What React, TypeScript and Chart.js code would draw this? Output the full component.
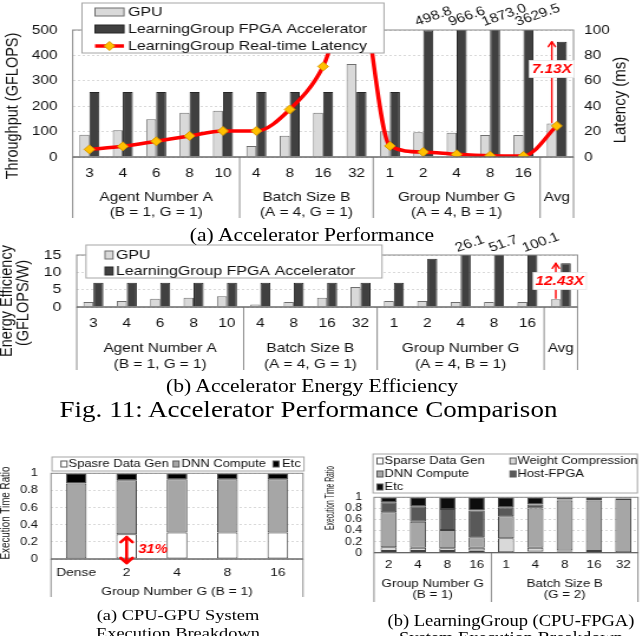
import React, { useEffect, useRef } from 'react';
import { Chart, registerables } from 'chart.js';

Chart.register(...registerables);

// The reference figure is horizontally stretched; we lay out in unscaled units and stretch.
const SX = 1.18;
const SANS = '"Liberation Sans", Arial, Helvetica, sans-serif';
const SERIF = '"Liberation Serif", "Times New Roman", Times, serif';
const INK = '#111111';
const FRAME = '#8a8a8a';
const RED = '#ff0000';

// ---------- (a) Accelerator Performance / (b) Energy Efficiency ----------
const accelTicks = ['3', '4', '6', '8', '10', '4', '8', '16', '32', '1', '2', '4', '8', '16', ''];
const accelGroupTitles = ['Agent Number A', 'Batch Size B', 'Group Number G', 'Avg'];
const accelGroupSubtitles = ['(B = 1, G = 1)', '(A = 4, G = 1)', '(A = 4, B = 1)', ''];
const accelGroupSpans = [5, 4, 5, 1];
const accelLegend = ['GPU', 'LearningGroup FPGA Accelerator', 'LearningGroup Real-time Latency'];

const gpuThroughput = [88, 105, 149, 174, 182, 43, 84, 174, 366, 101, 97, 95, 87, 87, 132];
const fpgaThroughput = [256, 256, 256, 256, 256, 256, 256, 256, 256, 256, 498.8, 966.6, 1873.0, 3629.5, 454];
const latencyMs = [6.0, 8.4, 12.4, 16.6, 20.5, 20.5, 37.4, 71.3, 140, 8.7, 3.9, 2.1, 1.0, 0.8, 24.5];
const throughputMax = 500;
const throughputStep = 100;
const latencyMax = 100;
const latencyStep = 20;
const perfSpeedup = '7.13X';

const gpuEfficiency = [1.45, 1.7, 2.4, 2.7, 3.1, 0.7, 1.45, 2.7, 5.8, 1.7, 1.7, 1.45, 1.45, 1.45, 2.2];
const fpgaEfficiency = [7.0, 7.0, 7.0, 7.0, 7.0, 7.0, 7.0, 7.0, 7.0, 7.0, 13.9, 26.1, 51.7, 100.1, 12.6];
const efficiencyMax = 15;
const efficiencyStep = 5;
const effSpeedup = '12.43X';

// ---------- (c) CPU-GPU breakdown ----------
const cgTicks = ['Dense', '2', '4', '8', '16'];
const cgGroupTitle = 'Group Number G (B = 1)';
const cgLegend = ['Spasre Data Gen', 'DNN Compute', 'Etc'];
const cgSparse = [0, 0.29, 0.31, 0.31, 0.31];
const cgDnn = [0.88, 0.63, 0.62, 0.62, 0.62];
const cgEtc = [0.12, 0.08, 0.07, 0.07, 0.07];
const cgReduction = '31%';

// ---------- (d) LearningGroup breakdown ----------
const lgTicks = ['2', '4', '8', '16', '1', '4', '8', '16', '32'];
const lgGroupTitles = ['Group Number G', 'Batch Size B'];
const lgGroupSubtitles = ['(B = 1)', '(G = 2)'];
const lgGroupSpans = [4, 5];
const lgLegend = ['Sparse Data Gen', 'Weight Compression', 'DNN Compute', 'Host-FPGA', 'Etc'];
const lgSparse = [0.03, 0.03, 0.03, 0.04, 0.01, 0.02, 0.02, 0.01, 0.005];
const lgWeight = [0.07, 0.06, 0.05, 0.05, 0.25, 0.07, 0.02, 0.02, 0.005];
const lgDnn = [0.63, 0.47, 0.33, 0.19, 0.40, 0.71, 0.90, 0.91, 0.96];
const lgHost = [0.18, 0.28, 0.38, 0.48, 0.16, 0.07, 0.02, 0.03, 0.01];
const lgEtc = [0.09, 0.16, 0.21, 0.24, 0.18, 0.13, 0.04, 0.03, 0.02];

const ratioMax = 1;
const ratioStep = 0.2;

Chart.defaults.font.family = SANS;

type Frame = { xT: number; yT: number; wT: number; hT: number; left: number; right: number; top: number; bottom: number };

function geom(f: Frame) {
  const cssLeft = Math.round(f.xT / SX);
  const W = Math.round(f.wT / SX);
  const ux = (xT: number) => xT / SX - cssLeft;
  const uy = (yT: number) => yT - f.yT;
  return { cssLeft, W, H: f.hT, ux, uy, plotL: ux(f.left), plotR: ux(f.right), plotT: uy(f.top), plotB: uy(f.bottom) };
}

type TxtOpt = {
  align?: CanvasTextAlign; baseline?: CanvasTextBaseline; weight?: string; style?: string;
  color?: string; rotate?: number; family?: string; targetLen?: number;
};

function drawText(ctx: CanvasRenderingContext2D, str: string, x: number, y: number, size: number, o: TxtOpt = {}) {
  ctx.save();
  ctx.translate(x, y);
  if (o.rotate) ctx.rotate(o.rotate);
  ctx.font = `${o.style || 'normal'} ${o.weight || 'normal'} ${size}px ${o.family || SANS}`;
  if (o.targetLen) {
    const w = ctx.measureText(str).width;
    ctx.scale(o.targetLen / w, 1);
  }
  ctx.fillStyle = o.color || INK;
  ctx.textAlign = o.align || 'center';
  ctx.textBaseline = o.baseline || 'middle';
  ctx.fillText(str, 0, 0);
  ctx.restore();
}

function drawBoxedText(ctx: CanvasRenderingContext2D, str: string, x: number, y: number, size: number, color: string) {
  ctx.save();
  ctx.font = `italic bold ${size}px ${SANS}`;
  const w = ctx.measureText(str).width;
  ctx.fillStyle = '#ffffff';
  ctx.fillRect(x - w / 2 - 2, y - size / 2 - 2, w + 4, size + 4);
  ctx.strokeStyle = '#e6e6e6';
  ctx.lineWidth = 0.8;
  ctx.strokeRect(x - w / 2 - 2, y - size / 2 - 2, w + 4, size + 4);
  ctx.restore();
  drawText(ctx, str, x, y, size, { weight: 'bold', style: 'italic', color });
}

function drawArrowHead(ctx: CanvasRenderingContext2D, x: number, yTip: number, dir: number, hw: number, hl: number) {
  ctx.beginPath();
  ctx.moveTo(x - hw, yTip - dir * hl);
  ctx.lineTo(x, yTip);
  ctx.lineTo(x + hw, yTip - dir * hl);
  ctx.stroke();
}

function drawVArrow(ctx: CanvasRenderingContext2D, x: number, yFrom: number, yTo: number, color: string, lw: number, hw: number, hl: number, both = false) {
  ctx.save();
  ctx.strokeStyle = color;
  ctx.lineWidth = lw;
  ctx.lineCap = 'round';
  ctx.lineJoin = 'round';
  const dir = yTo < yFrom ? -1 : 1;
  ctx.beginPath();
  ctx.moveTo(x, yFrom);
  ctx.lineTo(x, yTo);
  ctx.stroke();
  drawArrowHead(ctx, x, yTo, dir, hw, hl);
  if (both) drawArrowHead(ctx, x, yFrom, -dir, hw, hl);
  ctx.restore();
}

function drawCategoryAxis(
  ctx: CanvasRenderingContext2D, ca: any, ticks: string[], titles: string[], subs: string[], spans: number[],
  o: { tickY: number; titleY: number; subY: number; lineBottom: number; size: number }
) {
  const n = ticks.length;
  const cw = (ca.right - ca.left) / n;
  ctx.save();
  ctx.lineWidth = 1;
  ctx.strokeStyle = FRAME;
  ctx.strokeRect(ca.left, ca.top, ca.right - ca.left, ca.bottom - ca.top);
  let acc = 0;
  const bounds = [0];
  spans.forEach((s) => { acc += s; bounds.push(acc); });
  ctx.beginPath();
  bounds.forEach((b) => {
    const x = ca.left + b * cw;
    ctx.moveTo(x, ca.bottom);
    ctx.lineTo(x, o.lineBottom);
  });
  ctx.stroke();
  ctx.strokeStyle = '#595959';
  ctx.beginPath();
  ctx.moveTo(ca.left, ca.bottom);
  ctx.lineTo(ca.right, ca.bottom);
  ctx.stroke();
  ctx.restore();
  ticks.forEach((t, i) => { if (t) drawText(ctx, t, ca.left + (i + 0.5) * cw, o.tickY, o.size); });
  titles.forEach((t, k) => {
    const cx = ca.left + ((bounds[k] + bounds[k + 1]) / 2) * cw;
    drawText(ctx, t, cx, o.titleY, o.size);
    if (subs[k]) drawText(ctx, subs[k], cx, o.subY, o.size);
  });
}

function legendBox(ctx: CanvasRenderingContext2D, x0: number, y0: number, x1: number, y1: number) {
  ctx.save();
  ctx.fillStyle = '#ffffff';
  ctx.fillRect(x0, y0, x1 - x0, y1 - y0);
  ctx.strokeStyle = '#a6a6a6';
  ctx.lineWidth = 1;
  ctx.strokeRect(x0, y0, x1 - x0, y1 - y0);
  ctx.restore();
}

function swatch(ctx: CanvasRenderingContext2D, x: number, y: number, w: number, h: number, fill: string, stroke: string) {
  ctx.save();
  ctx.fillStyle = fill;
  ctx.fillRect(x, y - h / 2, w, h);
  ctx.strokeStyle = stroke;
  ctx.lineWidth = 1;
  ctx.strokeRect(x, y - h / 2, w, h);
  ctx.restore();
}

function diamond(ctx: CanvasRenderingContext2D, x: number, y: number, r: number) {
  ctx.save();
  ctx.beginPath();
  ctx.moveTo(x, y - r);
  ctx.lineTo(x + r, y);
  ctx.lineTo(x, y + r);
  ctx.lineTo(x - r, y);
  ctx.closePath();
  ctx.fillStyle = '#ffc000';
  ctx.fill();
  ctx.strokeStyle = '#d99a00';
  ctx.lineWidth = 1;
  ctx.stroke();
  ctx.restore();
}

const GPU_FILL = '#d9d9d9';
const GPU_EDGE = '#6f6f6f';
const FPGA_FILL = '#404040';
const FPGA_EDGE = '#262626';

const fmtTick = (v: any) => String(Math.round(Number(v) * 10) / 10);

function yScaleOpts(max: number, step: number, padding: number, size: number, width: number, gridOn = true) {
  return {
    min: 0,
    max,
    ticks: { stepSize: step, padding, autoSkip: false, font: { family: SANS, size }, color: INK, callback: fmtTick },
    grid: { display: gridOn, color: '#d9d9d9', drawTicks: false, lineWidth: 1 },
    border: { display: false, dash: [2, 2] },
    afterFit: (s: any) => { s.width = width; },
  };
}

function baseOptions(g: ReturnType<typeof geom>, padRight: number) {
  return {
    responsive: false,
    maintainAspectRatio: false,
    animation: false as const,
    devicePixelRatio: 1,
    layout: { padding: { top: g.plotT, left: 0, right: padRight, bottom: 0 } },
    plugins: { legend: { display: false }, tooltip: { enabled: false } },
  };
}

function perfConfig(f: Frame) {
  const g = geom(f);
  const plugin = {
    id: 'perfDecor',
    afterDraw(chart: any) {
      const { ctx, chartArea: ca } = chart;
      drawCategoryAxis(ctx, ca, accelTicks, accelGroupTitles, accelGroupSubtitles, accelGroupSpans, {
        tickY: g.uy(173), titleY: g.uy(197), subY: g.uy(212), lineBottom: g.uy(218), size: 13,
      });
      const gpuMeta = chart.getDatasetMeta(1);
      const fpgaMeta = chart.getDatasetMeta(2);
      fpgaThroughput.forEach((v, i) => {
        if (v > throughputMax * 0.95) {
          const el = fpgaMeta.data[i];
          drawText(ctx, v.toFixed(1), el.x - 11 / SX, g.uy(26), 13, { align: 'left', baseline: 'alphabetic', rotate: (-22 * Math.PI) / 180 });
        }
      });
      const last = gpuThroughput.length - 1;
      const gb = gpuMeta.data[last];
      const fb = fpgaMeta.data[last];
      drawVArrow(ctx, gb.x, gb.y - 1, fb.y, RED, 1.4, 3, 5);
      drawBoxedText(ctx, perfSpeedup, gb.x, g.uy(69), 13, RED);
      // legend
      legendBox(ctx, g.ux(82), g.uy(3), g.ux(384), g.uy(53));
      const mx0 = g.ux(95);
      const mx1 = g.ux(124);
      swatch(ctx, mx0, g.uy(12), mx1 - mx0, 8, GPU_FILL, GPU_EDGE);
      swatch(ctx, mx0, g.uy(29), mx1 - mx0, 8, FPGA_FILL, FPGA_EDGE);
      ctx.save();
      ctx.strokeStyle = RED;
      ctx.lineWidth = 3.5;
      ctx.beginPath();
      ctx.moveTo(mx0, g.uy(46));
      ctx.lineTo(mx1, g.uy(46));
      ctx.stroke();
      ctx.restore();
      diamond(ctx, (mx0 + mx1) / 2, g.uy(46), 4.5);
      [12, 29, 46].forEach((yy, k) => drawText(ctx, accelLegend[k], g.ux(128), g.uy(yy), 13.5, { align: 'left' }));
      // axis titles
      drawText(ctx, 'Throughput (GFLOPS)', g.ux(12.5), g.uy(106), 14.5, { rotate: -Math.PI / 2 });
      drawText(ctx, 'Latency (ms)', g.ux(621), g.uy(100), 15, { rotate: -Math.PI / 2 });
    },
  };
  return {
    type: 'bar',
    data: {
      labels: accelTicks,
      datasets: [
        {
          type: 'line', label: accelLegend[2], data: latencyMs, yAxisID: 'y1', order: 0,
          borderColor: RED, borderWidth: 3.5, cubicInterpolationMode: 'monotone', fill: false,
          pointStyle: 'rectRot', pointRadius: 4.5, pointBackgroundColor: '#ffc000', pointBorderColor: '#d99a00', pointBorderWidth: 1,
        },
        {
          type: 'bar', label: accelLegend[0], data: gpuThroughput, yAxisID: 'y', order: 1,
          backgroundColor: GPU_FILL, borderColor: GPU_EDGE, borderWidth: 1, categoryPercentage: 0.6, barPercentage: 1,
        },
        {
          type: 'bar', label: accelLegend[1], data: fpgaThroughput, yAxisID: 'y', order: 2,
          backgroundColor: FPGA_FILL, borderColor: FPGA_EDGE, borderWidth: 1, categoryPercentage: 0.6, barPercentage: 1,
        },
      ],
    },
    options: {
      ...baseOptions(g, 0),
      scales: {
        x: { ticks: { display: false }, grid: { display: false }, border: { display: false }, afterFit: (s: any) => { s.height = g.H - g.plotB; } },
        y: yScaleOpts(throughputMax, throughputStep, 13, 13, g.plotL),
        y1: { ...yScaleOpts(latencyMax, latencyStep, 9, 13, g.W - g.plotR, false), position: 'right' },
      },
    },
    plugins: [plugin],
  };
}

function effConfig(f: Frame) {
  const g = geom(f);
  const plugin = {
    id: 'effDecor',
    afterDraw(chart: any) {
      const { ctx, chartArea: ca } = chart;
      drawCategoryAxis(ctx, ca, accelTicks, accelGroupTitles, accelGroupSubtitles, accelGroupSpans, {
        tickY: g.uy(323), titleY: g.uy(348), subY: g.uy(364), lineBottom: g.uy(370), size: 13,
      });
      const gpuMeta = chart.getDatasetMeta(0);
      const fpgaMeta = chart.getDatasetMeta(1);
      fpgaEfficiency.forEach((v, i) => {
        if (v > efficiencyMax) {
          const el = fpgaMeta.data[i];
          drawText(ctx, v.toFixed(1), el.x - 8 / SX, g.uy(252), 13, { align: 'left', baseline: 'alphabetic', rotate: (-22 * Math.PI) / 180 });
        }
      });
      const last = gpuEfficiency.length - 1;
      const gb = gpuMeta.data[last];
      const fb = fpgaMeta.data[last];
      drawVArrow(ctx, gb.x, gb.y - 1, fb.y, RED, 1.4, 3, 5);
      drawBoxedText(ctx, effSpeedup, gb.x + 4 / SX, g.uy(281), 13, RED);
      legendBox(ctx, g.ux(86), g.uy(245), g.ux(382), g.uy(278));
      swatch(ctx, g.ux(105), g.uy(255), 8 / SX, 8, GPU_FILL, GPU_EDGE);
      swatch(ctx, g.ux(105), g.uy(271), 8 / SX, 8, FPGA_FILL, FPGA_EDGE);
      drawText(ctx, accelLegend[0], g.ux(116), g.uy(255), 13.5, { align: 'left' });
      drawText(ctx, accelLegend[1], g.ux(116), g.uy(271), 13.5, { align: 'left' });
      drawText(ctx, 'Energy Efficiency', g.ux(7), g.uy(301), 14.5, { rotate: -Math.PI / 2 });
      drawText(ctx, '(GFLOPS/W)', g.ux(24), g.uy(303), 14.5, { rotate: -Math.PI / 2 });
    },
  };
  return {
    type: 'bar',
    data: {
      labels: accelTicks,
      datasets: [
        { label: accelLegend[0], data: gpuEfficiency, backgroundColor: GPU_FILL, borderColor: GPU_EDGE, borderWidth: 1, categoryPercentage: 0.6, barPercentage: 1 },
        { label: accelLegend[1], data: fpgaEfficiency, backgroundColor: FPGA_FILL, borderColor: FPGA_EDGE, borderWidth: 1, categoryPercentage: 0.6, barPercentage: 1 },
      ],
    },
    options: {
      ...baseOptions(g, g.W - g.plotR),
      scales: {
        x: { ticks: { display: false }, grid: { display: false }, border: { display: false }, afterFit: (s: any) => { s.height = g.H - g.plotB; } },
        y: yScaleOpts(efficiencyMax, efficiencyStep, 13, 13.5, g.plotL),
      },
    },
    plugins: [plugin],
  };
}

function cgConfig(f: Frame) {
  const g = geom(f);
  const plugin = {
    id: 'cgDecor',
    afterDraw(chart: any) {
      const { ctx, chartArea: ca } = chart;
      drawCategoryAxis(ctx, ca, cgTicks, [cgGroupTitle], [''], [cgTicks.length], {
        tickY: g.uy(573), titleY: g.uy(592), subY: 0, lineBottom: g.uy(597), size: 11.7,
      });
      const sparseMeta = chart.getDatasetMeta(0);
      const el = sparseMeta.data[1];
      drawVArrow(ctx, el.x, ca.bottom + 4, el.y + 3, RED, 2.6, 5, 5, true);
      drawText(ctx, cgReduction, g.ux(153), g.uy(550), 12.5, { weight: 'bold', style: 'italic', color: RED });
      legendBox(ctx, g.ux(52), g.uy(457), g.ux(304), g.uy(471));
      const ly = g.uy(464);
      const fills = ['#ffffff', '#a6a6a6', '#000000'];
      const sx = [61, 173, 273];
      const tx = [68.5, 181.5, 282];
      cgLegend.forEach((t, k) => {
        swatch(ctx, g.ux(sx[k]), ly, 6 / SX, 6, fills[k], '#595959');
        drawText(ctx, t, g.ux(tx[k]), ly, 11, { align: 'left' });
      });
      drawText(ctx, 'Execution Time Ratio', g.ux(6), g.uy(513), 10, { rotate: -Math.PI / 2, targetLen: 93 });
    },
  };
  const ds = (label: string, data: number[], color: string) => ({
    label, data, backgroundColor: color, borderColor: '#404040', borderWidth: 1, borderSkipped: false,
    categoryPercentage: 0.41, barPercentage: 1, stack: 's',
  });
  return {
    type: 'bar',
    data: {
      labels: cgTicks,
      datasets: [ds(cgLegend[0], cgSparse, '#ffffff'), ds(cgLegend[1], cgDnn, '#a6a6a6'), ds(cgLegend[2], cgEtc, '#000000')],
    },
    options: {
      ...baseOptions(g, g.W - g.plotR),
      scales: {
        x: { stacked: true, ticks: { display: false }, grid: { display: false }, border: { display: false }, afterFit: (s: any) => { s.height = g.H - g.plotB; } },
        y: { ...yScaleOpts(ratioMax, ratioStep, 11, 11, g.plotL), stacked: true },
      },
    },
    plugins: [plugin],
  };
}

function lgConfig(f: Frame) {
  const g = geom(f);
  const fills = ['#ffffff', '#d9d9d9', '#a6a6a6', '#595959', '#0d0d0d'];
  const plugin = {
    id: 'lgDecor',
    afterDraw(chart: any) {
      const { ctx, chartArea: ca } = chart;
      drawCategoryAxis(ctx, ca, lgTicks, lgGroupTitles, lgGroupSubtitles, lgGroupSpans, {
        tickY: g.uy(565), titleY: g.uy(584), subY: g.uy(595), lineBottom: g.uy(602), size: 11.3,
      });
      legendBox(ctx, g.ux(373), g.uy(454), g.ux(638) - 0.5, g.uy(493));
      const rows = [461, 474, 487];
      const cols = [377, 510];
      lgLegend.forEach((t, k) => {
        const r = Math.floor(k / 2);
        const c = k % 2;
        const y = g.uy(rows[r]);
        swatch(ctx, g.ux(cols[c]), y, 6 / SX, 6, fills[k], '#595959');
        drawText(ctx, t, g.ux(cols[c] + 7.5), y, 11, { align: 'left' });
      });
      drawText(ctx, 'Execution Time Ratio', g.ux(330), g.uy(498), 10.5, { rotate: -Math.PI / 2, targetLen: 64 });
    },
  };
  const ds = (label: string, data: number[], color: string) => ({
    label, data, backgroundColor: color, borderColor: '#404040', borderWidth: 1, borderSkipped: false,
    categoryPercentage: 0.55, barPercentage: 1, stack: 's',
  });
  return {
    type: 'bar',
    data: {
      labels: lgTicks,
      datasets: [
        ds(lgLegend[0], lgSparse, fills[0]),
        ds(lgLegend[1], lgWeight, fills[1]),
        ds(lgLegend[2], lgDnn, fills[2]),
        ds(lgLegend[3], lgHost, fills[3]),
        ds(lgLegend[4], lgEtc, fills[4]),
      ],
    },
    options: {
      ...baseOptions(g, g.W - g.plotR),
      scales: {
        x: { stacked: true, ticks: { display: false }, grid: { display: false }, border: { display: false }, afterFit: (s: any) => { s.height = g.H - g.plotB; } },
        y: { ...yScaleOpts(ratioMax, ratioStep, 10, 10.5, g.plotL), stacked: true },
      },
    },
    plugins: [plugin],
  };
}

const frameA: Frame = { xT: 0, yT: 0, wT: 640, hT: 228, left: 72.7, right: 573.5, top: 30, bottom: 157 };
const frameB: Frame = { xT: 0, yT: 228, wT: 640, hT: 147, left: 76.7, right: 577.5, top: 255, bottom: 307 };
const frameC: Frame = { xT: 0, yT: 445, wT: 320, hT: 155, left: 51, right: 303, top: 473.3, bottom: 559 };
const frameD: Frame = { xT: 320, yT: 445, wT: 320, hT: 160, left: 374, right: 638, top: 497.3, bottom: 552.7 };

function ChartBox({ frame, build }: { frame: Frame; build: (f: Frame) => any }) {
  const ref = useRef<HTMLCanvasElement>(null);
  const g = geom(frame);
  useEffect(() => {
    if (!ref.current) return;
    const c = new Chart(ref.current, build(frame));
    return () => c.destroy();
  }, []);
  return (
    <canvas
      ref={ref}
      width={g.W}
      height={g.H}
      style={{ position: 'absolute', left: g.cssLeft, top: frame.yT, width: g.W, height: g.H, display: 'block' }}
    />
  );
}

function Caption({ lines, cx, cy, size, lh }: { lines: string[]; cx: number; cy: number; size: number; lh: number }) {
  return (
    <div
      style={{
        position: 'absolute', left: cx / SX - 250, width: 500, top: cy - lh / 2, textAlign: 'center',
        fontFamily: SERIF, fontSize: size, lineHeight: `${lh}px`, whiteSpace: 'nowrap', color: '#000',
      }}
    >
      {lines.map((l, i) => (
        <div key={i}>{l}</div>
      ))}
    </div>
  );
}

export default function App() {
  return (
    <div style={{ position: 'absolute', left: 0, top: 0, width: 640, height: 636, overflow: 'hidden', background: '#fff' }}>
      <div style={{ position: 'absolute', left: 0, top: 0, width: 640 / SX, height: 636, transform: `scaleX(${SX})`, transformOrigin: '0 0' }}>
        <ChartBox frame={frameA} build={perfConfig} />
        <ChartBox frame={frameB} build={effConfig} />
        <ChartBox frame={frameC} build={cgConfig} />
        <ChartBox frame={frameD} build={lgConfig} />
        <Caption lines={['(a) Accelerator Performance']} cx={312} cy={235} size={18.3} lh={20} />
        <Caption lines={['(b) Accelerator Energy Efficiency']} cx={312} cy={386} size={18.3} lh={20} />
        <Caption lines={['Fig. 11: Accelerator Performance Comparison']} cx={308.5} cy={410} size={22.9} lh={24} />
        <Caption lines={['(a) CPU-GPU System', 'Execution Breakdown']} cx={178} cy={615} size={15.6} lh={18} />
        <Caption lines={['(b) LearningGroup (CPU-FPGA)', 'System Execution Breakdown']} cx={511} cy={620} size={15.7} lh={17} />
      </div>
    </div>
  );
}
